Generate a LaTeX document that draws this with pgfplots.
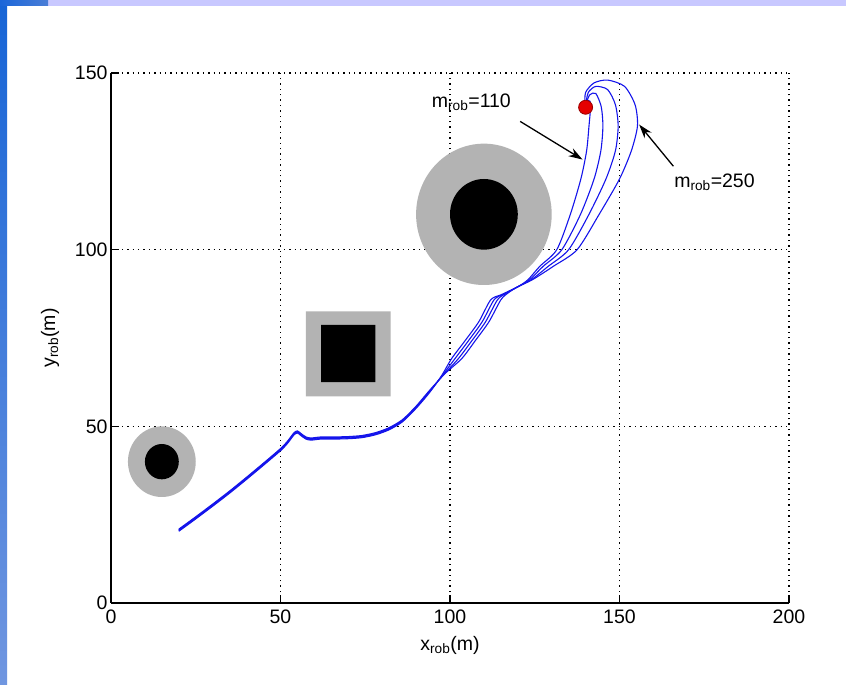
\documentclass[border=0pt]{standalone}
\usepackage{pgfplots}
\pgfplotsset{compat=1.18}
\usepackage{fontspec}
\setmainfont{Liberation Sans}
\usetikzlibrary{arrows.meta}
\definecolor{obsgray}{RGB}{179,179,179}
\definecolor{slideblueA}{RGB}{22,100,214}
\definecolor{slideblueB}{RGB}{112,150,224}
\definecolor{cornerA}{RGB}{26,102,217}
\definecolor{cornerB}{RGB}{74,125,214}
\definecolor{topbar}{RGB}{200,200,255}
\definecolor{trajblue}{RGB}{20,20,235}
\begin{document}
\begin{tikzpicture}
% slide background
\fill[white] (0pt,0pt) rectangle (846pt,685pt);
\shade[top color=slideblueA, bottom color=slideblueB] (0pt,0pt) rectangle (7pt,685pt);
\fill[topbar] (48pt,679pt) rectangle (846pt,685pt);
\shade[left color=cornerA, right color=cornerB] (0pt,679pt) rectangle (48pt,685pt);
\begin{axis}[
  at={(111pt,82pt)}, anchor=south west,
  scale only axis, width=678pt, height=530pt,
  xmin=0, xmax=200, ymin=0, ymax=150,
  xtick={0,50,100,150,200}, ytick={0,50,100,150},
  axis lines=left, axis line style={-, line width=1.3pt, black},
  tick style={black, line width=1.1pt},
  major tick length=8pt, tick align=inside,
  grid=major,
  major grid style={black, line width=1.3pt, dash pattern=on 1.4pt off 4pt},
  /pgf/number format/assume math mode=true,
  tick label style={font=\fontsize{19.5}{21}\selectfont},
  xticklabel style={yshift=-3pt},
  xlabel={x\textsubscript{rob}(m)},
  ylabel={y\textsubscript{rob}(m)},
  label style={font=\fontsize{19.5}{21}\selectfont},
  xlabel style={at={(axis description cs:0.5,-0.08)}, anchor=center},
  ylabel style={at={(axis description cs:-0.09,0.5)}, anchor=center, rotate=0},
  clip=false,
]
% obstacles
\fill[obsgray] (axis cs:15,40) circle [radius=10];
\fill[black] (axis cs:15,40) circle [radius=5];
\fill[obsgray] (axis cs:110,110) circle [radius=20];
\fill[black] (axis cs:110,110) circle [radius=10];
\addplot[draw=none, fill=obsgray] coordinates {(57.5,58.5) (82.5,58.5) (82.5,82.5) (57.5,82.5) (57.5,58.5)};
\addplot[draw=none, fill=black] coordinates {(62,62.5) (78,62.5) (78,78.7) (62,78.7) (62,62.5)};
% trajectories
\addplot[trajblue, line width=1.1pt, smooth, tension=0.45] coordinates {
(20,20.3) (25,23.8) (30,27.4) (35,31.1) (40,35.0) (45,39.0) (50,43.1) (52,45.1) (54,47.6) (55,48.1) (56,47.4) (57.5,46.4) (59,46.1) (62,46.4) (66,46.4) (70,46.5) (74,46.8) (78,47.6) (82,49.0) (86,51.3) (90,55.1) (94,59.6) (97.5,64.3)
(100.5,69.2) (104.5,74.3) (108.5,79.6) (112,85.8) (115,87.2) (120,89.5)
(123,91.5) (126.5,95.3) (131.5,100) (135.5,110) (138.6,120) (140.3,128) (141,135) (141.4,139.5) (141.3,142) (140.5,142) (140,140.5)};
\addplot[trajblue, line width=1.1pt, smooth, tension=0.45] coordinates {
(20,20.5) (25,24.0) (30,27.6) (35,31.3) (40,35.2) (45,39.2) (50,43.3) (52,45.3) (54,47.8) (55,48.3) (56,47.6) (57.5,46.6) (59,46.3) (62,46.6) (66,46.6) (70,46.7) (74,47.0) (78,47.8) (82,49.2) (86,51.5) (90,55.3) (94,59.8) (97.8,64.5)
(101.5,69.2) (105.5,74.3) (109.5,79.6) (113,85.8) (115.8,87.4) (120,89.5)
(123.5,91.5) (127.5,95.3) (133,100) (138.5,110) (142.5,120) (144.5,128) (145.1,135) (144.6,140.5) (143,144.2) (141.2,143.8) (140,141)};
\addplot[trajblue, line width=1.1pt, smooth, tension=0.45] coordinates {
(20,20.7) (25,24.2) (30,27.8) (35,31.5) (40,35.4) (45,39.4) (50,43.5) (52,45.5) (54,48.0) (55,48.5) (56,47.8) (57.5,46.8) (59,46.5) (62,46.8) (66,46.8) (70,46.9) (74,47.2) (78,48.0) (82,49.4) (86,51.7) (90,55.5) (94,60.0) (98.2,64.7)
(102.5,69.2) (106.5,74.3) (110.5,79.6) (114,85.8) (116.5,87.6) (120,89.5)
(124,91.5) (129,95.3) (135,100) (141,110) (146,120) (148.8,128) (149.6,135) (148.8,141) (146.5,145.3) (143,146.2) (140.8,144.5) (140,141)};
\addplot[trajblue, line width=1.1pt, smooth, tension=0.45] coordinates {
(20,20.9) (25,24.4) (30,28.0) (35,31.7) (40,35.6) (45,39.6) (50,43.7) (52,45.7) (54,48.2) (55,48.7) (56,48.0) (57.5,47.0) (59,46.7) (62,47.0) (66,47.0) (70,47.1) (74,47.4) (78,48.2) (82,49.6) (86,51.9) (90,55.7) (94,60.2) (98.5,64.9)
(103.5,69.2) (107.5,74.3) (111.5,79.6) (115,85.8) (117.2,87.8) (120,89.5)
(124.5,91.6) (130.5,95.3) (137.5,100) (144,110) (150,120) (153.5,128) (155.3,135) (154.6,141) (151.5,146.2) (146.5,148) (142.5,147.2) (140,144.5) (139.8,141)};
% goal
\addplot[only marks, mark=*, mark size=7pt, mark options={fill=red!90!black, draw=red!60!black, line width=0.8pt}] coordinates {(140,140.3)};
% annotations
\draw[black, line width=1.3pt, -{Stealth[length=14pt, width=9pt]}] (axis cs:120.7,136.3) -- (axis cs:139.1,125.5);
\draw[black, line width=1.3pt, -{Stealth[length=14pt, width=9pt]}] (axis cs:165.9,123.6) -- (axis cs:155.8,135.4);
\node[anchor=base west, inner sep=0pt, font=\fontsize{19.5}{21}\selectfont] at (axis cs:94.6,140.2) {m\textsubscript{rob}=110};
\node[anchor=base west, inner sep=0pt, font=\fontsize{19.5}{21}\selectfont] at (axis cs:166.1,117.5) {m\textsubscript{rob}=250};
\end{axis}
\pgfresetboundingbox
\useasboundingbox (0pt,0pt) rectangle (846pt,685pt);
\end{tikzpicture}
\end{document}
